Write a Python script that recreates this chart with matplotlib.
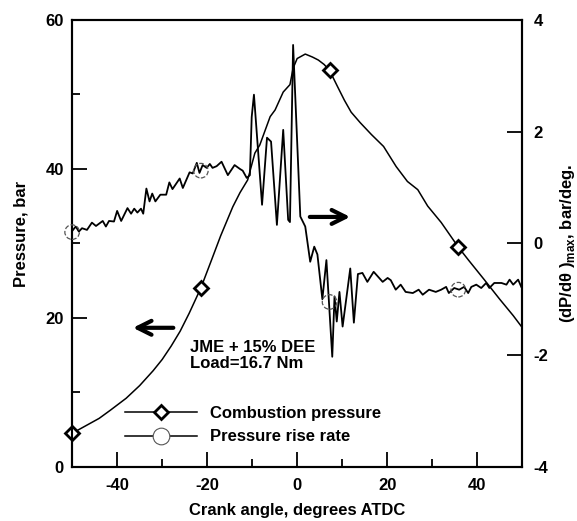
import numpy as np
import matplotlib
matplotlib.use('Agg')
import matplotlib.pyplot as plt
from matplotlib.lines import Line2D

plt.rcParams['font.family'] = ['Liberation Sans', 'DejaVu Sans']
plt.rcParams['font.weight'] = 'bold'
plt.rcParams['axes.labelweight'] = 'bold'
plt.rcParams['font.size'] = 12
plt.rcParams['axes.unicode_minus'] = False
plt.rcParams['mathtext.fontset'] = 'custom'
plt.rcParams['mathtext.rm'] = 'Liberation Sans'
plt.rcParams['mathtext.bf'] = 'Liberation Sans:bold'

# combustion pressure, bar (left axis)
p_angle = [-50, -47, -44, -41.5, -38, -35, -32, -30, -28, -26, -24, -21.4, -19, -17,
           -14.3, -12.7, -11, -9.4, -8.3, -6, -4.9, -3.1, -1.6, -0.9, 0, 1.8, 3.4,
           4.7, 6, 7.2, 9, 10.5, 12, 14, 16.5, 19.2, 22, 24.5, 26.8, 29, 32, 35.8,
           38, 41.6, 45, 48, 50]
pressure = [4.5, 5.5, 6.5, 7.6, 9.2, 10.9, 12.9, 14.4, 16.2, 18.2, 20.6, 24.0, 27.8, 31.0,
            34.9, 36.8, 38.5, 42.1, 43.2, 47.0, 47.9, 50.3, 51.3, 53.5, 54.8, 55.4, 55.0,
            54.6, 54.0, 53.2, 51.0, 49.2, 47.6, 46.2, 44.6, 43.0, 40.3, 38.3, 37.2, 35.0,
            32.8, 29.5, 27.8, 25.1, 22.5, 20.3, 18.7]

# pressure rise rate, bar/deg (right axis)
r_angle = [-50, -49.2, -48.5, -47.8, -46.7, -45.6, -44.7, -43.2, -42.5, -41.8, -40.7,
           -40.0, -39.1, -37.7, -36.9, -36.2, -35.5, -34.7, -34.2, -33.5, -32.8, -32.2,
           -31.5, -30.4, -29.1, -28.4, -27.7, -26.1, -25.4, -23.9, -23.2, -22.3, -21.7,
           -21.0, -20.1, -19.4, -18.8, -17.9, -16.8, -15.4, -13.9, -12.7, -12.1, -11.2,
           -10.5, -10.1, -9.6, -7.8, -6.7, -5.8, -4.5, -3.1, -2.0, -1.6, -0.9, 0.7, 1.8,
           2.9, 3.8, 4.5, 5.6, 6.5, 7.8, 8.3, 8.8, 9.4, 10.1, 11.8, 12.6, 13.5, 14.5,
           15.6, 17.0, 19.0, 20.1, 20.8, 21.9, 23.0, 24.1, 25.7, 27.0, 27.9, 29.3, 30.8,
           32.0, 33.1, 33.7, 34.9, 36.0, 37.1, 38.0, 38.7, 39.8, 40.9, 42.0, 42.7, 43.8,
           45.4, 46.5, 47.2, 48.0, 49.1, 49.8]
rise_rate = [0.22, 0.30, 0.21, 0.27, 0.24, 0.37, 0.31, 0.40, 0.30, 0.40, 0.39,
             0.58, 0.40, 0.63, 0.53, 0.62, 0.55, 0.62, 0.53, 0.98, 0.75, 0.89,
             0.75, 0.87, 0.87, 1.09, 0.97, 1.16, 0.99, 1.27, 1.25, 1.44, 1.26,
             1.40, 1.35, 1.42, 1.35, 1.38, 1.46, 1.22, 1.40, 1.33, 1.30, 1.17,
             1.22, 2.26, 2.66, 0.69, 1.89, 1.82, 0.33, 2.03, 0.42, 0.38, 3.55, 0.48, 0.30,
             -0.33, -0.06, -0.20, -1.00, -0.30, -2.03, -0.95, -1.40, -0.87, -1.49, -0.45, -1.42, -0.55, -0.53,
             -0.69, -0.51, -0.69, -0.62, -0.66, -0.83, -0.74, -0.87, -0.89, -0.83, -0.92, -0.83, -0.87,
             -0.83, -0.78, -0.89, -0.80, -0.83, -0.78, -0.89, -0.78, -0.74, -0.80, -0.71, -0.80, -0.71,
             -0.71, -0.74, -0.65, -0.74, -0.65, -0.78]

# marker positions
mk_angle = [-50, -21.4, 7.2, 35.8]
mk_pressure = [4.5, 24.0, 53.2, 29.5]
mk_rate = [0.2, 1.3, -1.05, -0.83]

fig = plt.figure(figsize=(5.77, 5.21), dpi=100)
ax = fig.add_axes([0.125, 0.104, 0.780, 0.858])
ax2 = ax.twinx()

ax.plot(p_angle, pressure, color='black', lw=1.1)
ax.plot(mk_angle, mk_pressure, ls='none', marker='D', ms=7, mfc='white',
        mec='black', mew=2, clip_on=False, zorder=5)

ax2.plot(r_angle, rise_rate, color='black', lw=1.3)
ax2.scatter(mk_angle, mk_rate, s=110, facecolors='none', edgecolors='#555555',
            linewidths=0.9, linestyles='--', clip_on=False, zorder=5)

ax.set_xlim(-50, 50)
ax.set_ylim(0, 60)
ax2.set_ylim(-4, 4)
ax.set_xticks([-40, -20, 0, 20, 40])
ax.set_xticks([-30, -10, 10, 30], minor=True)
ax.set_yticks([0, 20, 40, 60])
ax.set_yticks([10, 30, 50], minor=True)
ax2.set_yticks([-4, -2, 0, 2, 4])

ax.tick_params(axis='both', which='major', direction='in', length=11, width=1.3)
ax.tick_params(axis='both', which='minor', direction='in', length=5.5, width=1.3)
ax.tick_params(axis='x', pad=8)
ax.tick_params(axis='y', pad=6)
ax2.tick_params(axis='y', direction='in', length=11, width=1.3, pad=8)

for a in (ax, ax2):
    for s in a.spines.values():
        s.set_linewidth(1.5)

ax.set_xlabel('Crank angle, degrees ATDC', fontweight='bold')
ax.xaxis.set_label_coords(0.5, -0.08)
ax.set_ylabel('Pressure, bar', fontweight='bold')
ax.yaxis.set_label_coords(-0.098, 0.52)
ax2.set_ylabel(r'(dP/d$\mathbf{\theta}$ )$_{\mathregular{max}}$, bar/deg.', fontweight='bold')
ax2.yaxis.set_label_coords(1.080, 0.5)

ax.annotate('', xy=(0.129, 0.311), xytext=(0.231, 0.311), xycoords='axes fraction',
            arrowprops=dict(arrowstyle='->', lw=3, color='black', mutation_scale=25))
ax.annotate('', xy=(0.624, 0.559), xytext=(0.522, 0.559), xycoords='axes fraction',
            arrowprops=dict(arrowstyle='->', lw=3, color='black', mutation_scale=25))

ax.text(0.262, 0.284, 'JME + 15% DEE\nLoad=16.7 Nm', transform=ax.transAxes,
        va='top', ha='left', fontweight='bold', linespacing=1.1)

h1 = Line2D([], [], color='black', lw=1.1, marker='D', ms=7, mfc='white', mec='black', mew=2)
h2 = Line2D([], [], color='black', lw=1.1, marker='o', ms=12, mfc='white', mec='#555555', mew=0.8)
ax2.legend([h1, h2], ['Combustion pressure', 'Pressure rise rate'], loc='center left',
           bbox_to_anchor=(0.118, 0.093), frameon=False, borderpad=0, borderaxespad=0,
           handlelength=4.3, handletextpad=0.8, labelspacing=0.5, numpoints=1,
           prop={'weight': 'bold', 'size': 12})

fig.savefig('out.png', dpi=100)
